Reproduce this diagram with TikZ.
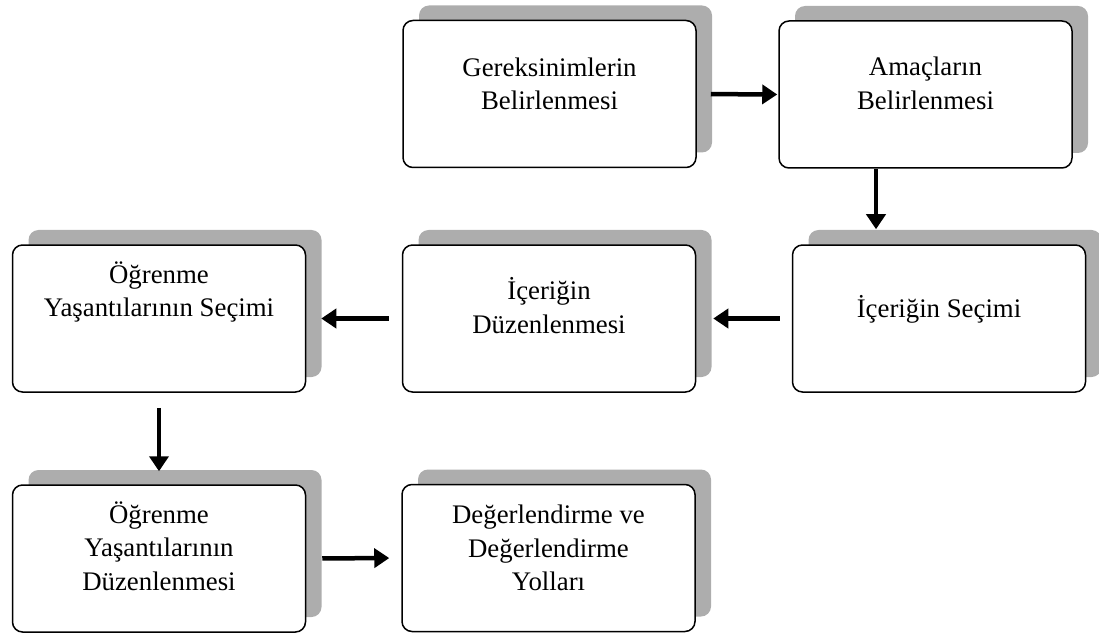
\documentclass[tikz,border=0pt]{standalone}
\usepackage{fontspec}
\setmainfont{Liberation Serif}
\usetikzlibrary{arrows.meta,shadows}

\begin{document}
\begin{tikzpicture}[x=1pt,y=-1pt,
        kutu/.style={draw,line width=1.5pt,rounded corners=10pt,fill=white,
            minimum width=293pt,minimum height=147pt,inner sep=0pt,
            general shadow={fill=black!32,shadow xshift=16pt,shadow yshift=15pt}},
        yazi/.style={align=center,font=\fontsize{26.8}{33.5}\selectfont},
        ok/.style={line width=4.5pt,-{Triangle[length=15pt,width=19pt]}}]
    \useasboundingbox (0,0) rectangle (1099,636);
    % kutular
    \node[kutu] (gerek) at (549.5,94) {};
    \node[kutu] (amac) at (925.5,94.5) {};
    \node[kutu] (secim) at (939,318.5) {};
    \node[kutu] (duzen) at (549,318.5) {};
    \node[kutu] (yasSec) at (159,318.5) {};
    \node[kutu] (yasDuz) at (159,558.5) {};
    \node[kutu] (deger) at (548.5,558) {};
    % yazilar
    \node[yazi] (gerekY) at ([yshift=10pt]gerek) {Gereksinimlerin\\Belirlenmesi};
    \node[yazi] (amacY) at ([yshift=11pt]amac) {Amaçların\\Belirlenmesi};
    \node[yazi] (secimY) at ([yshift=9.5pt]secim) {İçeriğin Seçimi};
    \node[yazi] (duzenY) at ([yshift=13pt]duzen) {İçeriğin\\Düzenlenmesi};
    \node[yazi] (yasSecY) at ([yshift=26.5pt]yasSec) {Öğrenme\\Yaşantılarının Seçimi};
    \node[yazi] (yasDuzY) at ([yshift=12.5pt]yasDuz) {Öğrenme\\Yaşantılarının\\Düzenlenmesi};
    \node[yazi] (degerY) at ([yshift=10pt]deger) {Değerlendirme ve\\Değerlendirme\\Yolları};
    % oklar
    \draw[ok,shorten <=14pt,shorten >=1pt] (gerek.east) -- (amac.west);
    \draw[ok,shorten >=15pt] ([xshift=-49.5pt]amac.south) -- ([xshift=-49.5pt]amac.south |- secim.north);
    \draw[ok,shorten <=12pt,shorten >=17pt] (secim.west) -- (duzen.east);
    \draw[ok,shorten <=13pt,shorten >=15pt] (duzen.west) -- (yasSec.east);
    \draw[ok,shorten <=15pt,shorten >=13pt] (yasSec.south) -- (yasDuz.north);
    \draw[ok,shorten <=16pt,shorten >=12pt] (yasDuz.east) -- (deger.west);
\end{tikzpicture}
\end{document}
